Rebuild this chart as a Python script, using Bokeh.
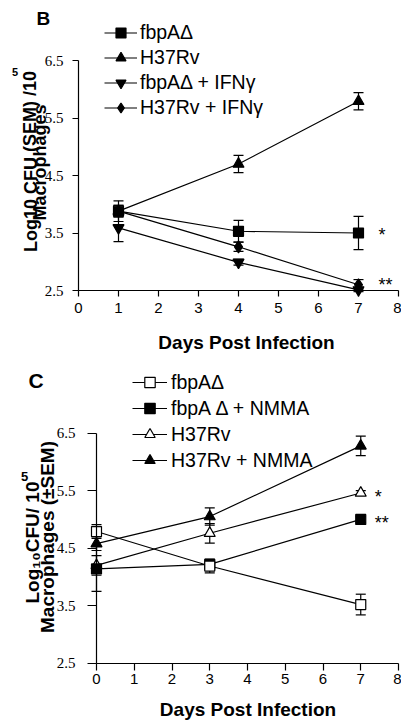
from bokeh.plotting import figure
from bokeh.models import (ColumnDataSource, Whisker, TeeHead, Legend, LegendItem,
                          Label, LabelSet, FixedTicker, Range1d,
                          CustomJSTickFormatter)
from bokeh.layouts import column
from bokeh.embed import file_html
from bokeh.resources import INLINE

FONT = "Liberation Sans"

# ---------------- data : panel B ----------------
b_days = [1, 4, 7]
b_fbpa = [3.88, 3.53, 3.50]
b_fbpa_sem = [0.18, 0.19, 0.29]
b_h37rv = [3.88, 4.70, 5.79]
b_h37rv_sem = [0.10, 0.15, 0.15]
b_fbpa_ifn = [3.59, 2.99, 2.51]
b_fbpa_ifn_sem = [0.24, 0.05, 0.03]
b_h37rv_ifn = [3.88, 3.26, 2.60]
b_h37rv_ifn_sem = [0.10, 0.08, 0.09]
b_names = ["fbpAΔ", "H37Rv", "fbpAΔ + IFNγ", "H37Rv + IFNγ"]
b_star_text = ["*", "**"]
b_star_y = [3.50, 2.60]

# ---------------- data : panel C ----------------
c_days = [0, 3, 7]
c_fbpa = [4.79, 4.19, 3.52]
c_fbpa_sem = [0.12, 0.12, 0.18]
c_fbpa_nmma = [4.14, 4.22, 5.00]
c_fbpa_nmma_sem = [0.39, 0.05, 0.05]
c_h37rv = [4.20, 4.76, 5.46]
c_h37rv_sem = [0.17, 0.17, 0.04]
c_h37rv_nmma = [4.58, 5.05, 6.28]
c_h37rv_nmma_sem = [0.12, 0.15, 0.17]
c_names = ["fbpAΔ", "fbpA Δ + NMMA", "H37Rv", "H37Rv + NMMA"]
c_star_text = ["*", "**"]
c_star_y = [5.46, 5.00]

y_ticks = [2.5, 3.5, 4.5, 5.5, 6.5]
y_tick_labels = ["2.5", "3.5", "4.5", "5.5", "6.5"]
x_ticks = [0, 1, 2, 3, 4, 5, 6, 7, 8]
x_title = "Days Post Infection"
b_ytitle = ["Log10 CFU (SEM) /10", "5", "Macrophages"]
c_ytitle = ["Log\u2081\u2080CFU/ 10", "5", "Macrophages (\u00b1SEM)"]

W = 401
LW = 1.2


def label(p, x, y, text, size, bold=False, angle=0.0, align="left",
          baseline="alphabetic", xo=0, yo=0):
    p.add_layout(Label(x=x, y=y, text=text, text_font=FONT,
                       text_font_size=f"{size}px",
                       text_font_style="bold" if bold else "normal",
                       angle=angle, text_align=align, text_baseline=baseline,
                       text_color="black", x_offset=xo, y_offset=yo))


def build(p, days, series, sems, markers, fills, sizes, names, order,
          leg_loc, gw, gh, standoff):
    srcs = []
    for vals, sem in zip(series, sems):
        src = ColumnDataSource(dict(
            x=days, y=vals,
            upper=[v + s for v, s in zip(vals, sem)],
            lower=[v - s for v, s in zip(vals, sem)]))
        srcs.append(src)
        p.add_layout(Whisker(
            source=src, base="x", upper="upper", lower="lower",
            dimension="height", line_color="black", line_width=LW,
            upper_head=TeeHead(size=10, line_color="black", line_width=LW),
            lower_head=TeeHead(size=10, line_color="black", line_width=LW)))
    lines = [p.line("x", "y", source=s, line_color="black", line_width=LW)
             for s in srcs]
    scats = [None] * len(srcs)
    for i in order:
        scats[i] = p.scatter("x", "y", source=srcs[i], marker=markers[i],
                             size=sizes[i], fill_color=fills[i],
                             line_color="black", line_width=LW)
    items = [LegendItem(label=n, renderers=[l, s])
             for n, l, s in zip(names, lines, scats)]
    leg = Legend(items=items, location=leg_loc, orientation="vertical",
                 padding=0, margin=0, spacing=0, glyph_width=gw,
                 glyph_height=gh, label_height=gh, label_standoff=standoff,
                 label_text_font=FONT, label_text_font_size="19.5px",
                 label_text_color="black", border_line_color=None,
                 background_fill_alpha=0)
    p.add_layout(leg)


def make_fig(h, xr, yr, xt_out, xt_stand, yt_out, ylab_gap):
    p = figure(width=W, height=h, x_range=Range1d(*xr), y_range=Range1d(*yr),
               output_backend="svg", toolbar_location=None,
               min_border_left=0, min_border_right=0, min_border_top=0,
               min_border_bottom=0)
    p.outline_line_color = None
    p.grid.visible = False
    p.background_fill_color = "white"
    p.border_fill_color = "white"
    p.xaxis.fixed_location = 2.5
    p.yaxis.fixed_location = 0
    for ax in p.axis:
        ax.axis_line_color = "black"
        ax.axis_line_width = LW
        ax.major_tick_line_color = "black"
        ax.major_tick_line_width = LW
        ax.minor_tick_line_color = None
        ax.major_tick_in = 0
        ax.major_label_text_font = FONT
        ax.major_label_text_font_size = "15px"
        ax.major_label_text_color = "black"
    p.xaxis.ticker = FixedTicker(ticks=x_ticks)
    p.yaxis.ticker = FixedTicker(ticks=y_ticks)
    p.xaxis.bounds = (x_ticks[0], x_ticks[-1])
    p.yaxis.bounds = (y_ticks[0], y_ticks[-1])
    p.xaxis.major_tick_out = xt_out
    p.xaxis.major_label_standoff = xt_stand
    p.yaxis.major_tick_out = yt_out
    # y tick labels are placed by a LabelSet on the same scale
    p.yaxis.formatter = CustomJSTickFormatter(code="return ''")
    src = ColumnDataSource(dict(x=[0] * len(y_ticks), y=y_ticks,
                                text=y_tick_labels))
    p.add_layout(LabelSet(x="x", y="y", text="text", source=src,
                          x_offset=-ylab_gap, text_align="right",
                          text_baseline="middle", text_font=FONT,
                          text_font_size="15px", text_color="black"))
    return p


# ---------------- panel B (page y 0..360) ----------------
H1 = 360
B_X0, B_PX = 78.0, 40.0      # pixel of day 0, px per day
B_Y25, B_PY = 290.0, 57.5    # pixel of 2.5, px per log unit


def bx(px):
    return (px - B_X0) / B_PX


def by(py):
    return 2.5 + (B_Y25 - py) / B_PY


p1 = make_fig(H1, (bx(0), bx(W)), (by(H1), by(0)), 6, 6, 6, 15)

build(p1, b_days, [b_fbpa, b_h37rv, b_fbpa_ifn, b_h37rv_ifn],
      [b_fbpa_sem, b_h37rv_sem, b_fbpa_ifn_sem, b_h37rv_ifn_sem],
      ["square", "triangle", "inverted_triangle", "diamond"],
      ["black"] * 4, [10, 11, 11, 12], b_names, [1, 2, 3, 0],
      (104, 240), 33, 25, 3)

for t, yv, yo in zip(b_star_text, b_star_y, [-2, 0]):
    label(p1, b_days[-1], yv, t, 18, xo=20, yo=yo, baseline="middle")
label(p1, bx(36), by(18), "B", 19, bold=True)
label(p1, bx(30), by(161), b_ytitle[0], 18, bold=True, angle=1.5708,
      align="center")
label(p1, bx(14.5), by(71), b_ytitle[1], 11, bold=True, align="center",
      baseline="middle")
label(p1, bx(39.5), by(162), b_ytitle[2], 18, bold=True, angle=1.5708,
      align="center")
label(p1, bx(246), by(342), x_title, 19, bold=True, align="center")

# ---------------- panel C (page y 360..722) ----------------
H2 = 362
C_TOP = 360.0
C_X0, C_PX = 96.0, 37.75
C_Y25, C_PY = 662.7, 57.5


def cx(px):
    return (px - C_X0) / C_PX


def cy(py):
    return 2.5 + (C_Y25 - py) / C_PY


p2 = make_fig(H2, (cx(0), cx(W)), (cy(C_TOP + H2), cy(C_TOP)), 7, 4, 9, 21)

build(p2, c_days, [c_fbpa, c_fbpa_nmma, c_h37rv, c_h37rv_nmma],
      [c_fbpa_sem, c_fbpa_nmma_sem, c_h37rv_sem, c_h37rv_nmma_sem],
      ["square", "square", "triangle", "triangle"],
      ["white", "black", "white", "black"], [10, 10, 11, 11], c_names,
      [2, 1, 3, 0], (132, 249), 35, 26, 4)

for t, yv in zip(c_star_text, c_star_y):
    label(p2, c_days[-1], yv, t, 18, xo=14, yo=-4, baseline="middle")
label(p2, cx(28), cy(380), "C", 21, bold=True)
label(p2, cx(32), cy(542), c_ytitle[0], 19, bold=True, angle=1.5708,
      align="center")
label(p2, cx(24), cy(476), c_ytitle[1], 13, bold=True, align="center",
      baseline="middle")
label(p2, cx(47), cy(536.5), c_ytitle[2], 19, bold=True, angle=1.5708,
      align="center")
label(p2, cx(247.5), cy(709), x_title, 19, bold=True, align="center")

layout = column(p1, p2)
open("out.html", "w").write(file_html(layout, INLINE))
